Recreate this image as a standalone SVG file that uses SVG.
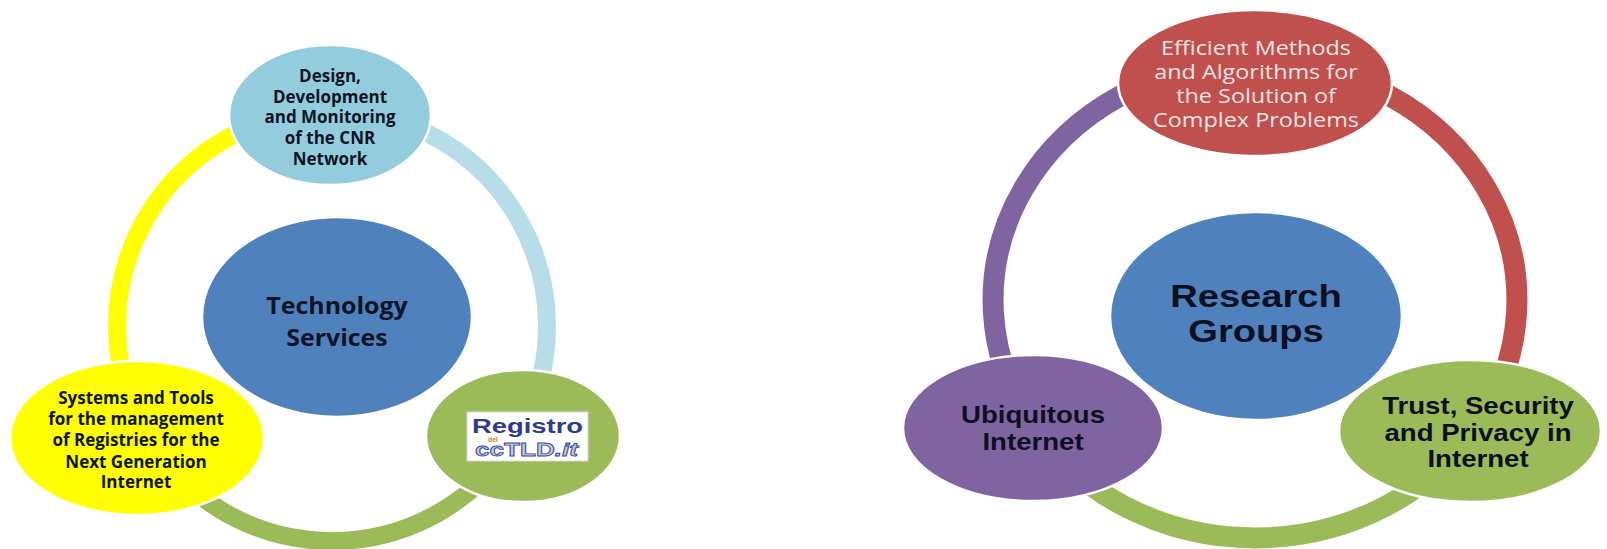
<svg xmlns="http://www.w3.org/2000/svg" width="1607" height="549" viewBox="0 0 1607 549">
<style>
  .ring { fill: none; stroke-linecap: butt; }
  .node { stroke: #ffffff; stroke-width: 2.5; }
  .os { font-family: "Open Sans", "Liberation Sans", sans-serif; font-weight: bold; fill: #0d1424; text-anchor: middle; }
  .ar { font-family: "Liberation Sans", Arial, sans-serif; font-weight: bold; fill: #0d1020; text-anchor: middle; }
  .osr { font-family: "Open Sans", "Liberation Sans", sans-serif; font-weight: normal; fill: #f7e4e3; text-anchor: middle; font-size: 19.5px; }
</style>
<rect x="0" y="0" width="1607" height="549" fill="#ffffff"/>

<g id="connectors">
  <!-- left cycle -->
  <path class="ring" stroke="#FFFF00" stroke-width="18" d="M 145.8 433.5 A 215 215 0 0 1 332 111"/>
  <path class="ring" stroke="#B7DEE8" stroke-width="18" d="M 332 111 A 215 215 0 0 1 518.2 433.5"/>
  <path class="ring" stroke="#9BBB59" stroke-width="18" d="M 518.2 433.5 A 215 215 0 0 1 145.8 433.5"/>
  <!-- right cycle -->
  <path class="ring" stroke="#8064A2" stroke-width="21" d="M 1037.8 433 A 262 238 0 0 1 1255 62"/>
  <path class="ring" stroke="#C0504D" stroke-width="21" d="M 1255 62 A 262 238 0 0 1 1472.2 433"/>
  <path class="ring" stroke="#9BBB59" stroke-width="21" d="M 1472.2 433 A 262 238 0 0 1 1037.8 433"/>
</g>

<!-- LEFT DIAGRAM -->
<g id="technology-services">
  <ellipse class="node" cx="337" cy="317" rx="135" ry="100" fill="#4F81BD"/>
  <g transform="translate(337 0) scale(1.06 1)">
    <text class="os" font-size="23.5" x="0" y="314">Technology</text>
    <text class="os" font-size="23.5" x="0" y="346">Services</text>
  </g>
</g>

<g id="cnr-network">
  <ellipse class="node" cx="330" cy="115" rx="101" ry="70" fill="#93CDDD"/>
  <text class="os" font-size="17" x="330" y="82">Design,</text>
  <text class="os" font-size="17" x="330" y="103">Development</text>
  <text class="os" font-size="17" x="330" y="123">and Monitoring</text>
  <text class="os" font-size="17" x="330" y="144">of the CNR</text>
  <text class="os" font-size="17" x="330" y="165">Network</text>
</g>

<g id="registries-tools">
  <ellipse class="node" cx="137" cy="438" rx="127" ry="77" fill="#FFFF00"/>
  <text class="os" font-size="17" x="136" y="404">Systems and Tools</text>
  <text class="os" font-size="17" x="136" y="425">for the management</text>
  <text class="os" font-size="17" x="136" y="446">of Registries for the</text>
  <text class="os" font-size="17" x="136" y="468">Next Generation</text>
  <text class="os" font-size="17" x="136" y="488">Internet</text>
</g>

<g id="registro-cctld">
  <ellipse class="node" cx="523" cy="436" rx="97" ry="66" fill="#9BBB59"/>
  <rect x="467" y="412" width="121" height="49" fill="#ffffff" stroke="#d8d8d8" stroke-width="1"/>
  <text x="472" y="433" font-family="'Liberation Sans', Arial, sans-serif" font-weight="bold" font-size="21" fill="#2E3B8F" textLength="111" lengthAdjust="spacingAndGlyphs">Registro</text>
  <text x="475" y="456" font-family="'Liberation Sans', Arial, sans-serif" font-weight="bold" font-size="18" fill="#C3CBE3" stroke="#3A4A99" stroke-width="0.8" textLength="103" lengthAdjust="spacingAndGlyphs">ccTLD<tspan font-style="italic">.it</tspan></text>
  <text x="493" y="442" font-family="'Liberation Sans', Arial, sans-serif" font-weight="bold" font-size="7" fill="#E07B1A" text-anchor="middle">del</text>
</g>

<!-- RIGHT DIAGRAM -->
<g id="research-groups">
  <ellipse class="node" cx="1256" cy="316" rx="146" ry="104" fill="#4F81BD"/>
  <g transform="translate(1256 0) scale(1.23 1)">
    <text class="ar" font-size="31" x="0" y="307">Research</text>
    <text class="ar" font-size="31" x="0" y="342">Groups</text>
  </g>
</g>

<g id="efficient-methods">
  <ellipse class="node" cx="1255" cy="83" rx="137" ry="73" fill="#C0504D"/>
  <g transform="translate(1256 0) scale(1.2 1)">
    <text class="osr" x="0" y="55">Efficient Methods</text>
    <text class="osr" x="0" y="79">and Algorithms for</text>
    <text class="osr" x="0" y="103">the Solution of</text>
    <text class="osr" x="0" y="127">Complex Problems</text>
  </g>
</g>

<g id="ubiquitous-internet">
  <ellipse class="node" cx="1033" cy="428" rx="130" ry="73" fill="#8064A2"/>
  <g transform="translate(1033 0) scale(1.2 1)">
    <text class="ar" font-size="23" x="0" y="423">Ubiquitous</text>
    <text class="ar" font-size="23" x="0" y="450">Internet</text>
  </g>
</g>

<g id="trust-security">
  <ellipse class="node" cx="1470" cy="431" rx="131" ry="71" fill="#9BBB59"/>
  <g transform="translate(1478 0) scale(1.2 1)">
    <text class="ar" font-size="23" x="0" y="414">Trust, Security</text>
    <text class="ar" font-size="23" x="0" y="441">and Privacy in</text>
    <text class="ar" font-size="23" x="0" y="467">Internet</text>
  </g>
</g>
</svg>
